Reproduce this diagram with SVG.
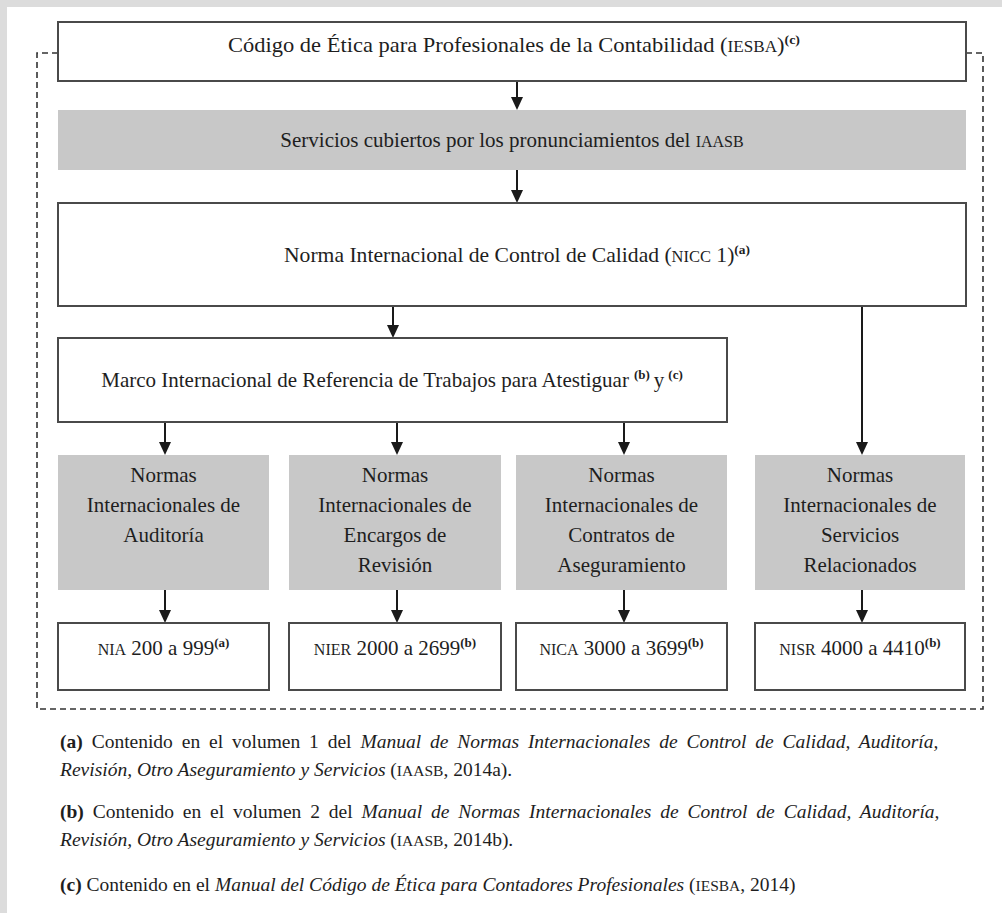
<svg xmlns="http://www.w3.org/2000/svg" width="1002" height="913" viewBox="0 0 1002 913">
<style>
.bg{fill:#ffffff}
.frame{fill:#dcdcdc}
.box{fill:#ffffff;stroke:#4a4a4a;stroke-width:2}
.gbox{fill:#c8c8c8;stroke:none}
.t{font-family:"Liberation Serif","Times New Roman",serif;font-size:21px;fill:#1e1e1e}
.m{text-anchor:middle}
.sc{font-size:16px}
.sup{font-size:13px;font-weight:bold}
.fn{font-family:"Liberation Serif","Times New Roman",serif;font-size:19.5px;fill:#1e1e1e}
.ws{word-spacing:4px}
.it{font-style:italic}
.b{font-weight:bold}
.conn{stroke:#1a1a1a;stroke-width:2;fill:none}
.head{fill:#1a1a1a}
.dash{stroke:#333;stroke-width:1.6;fill:none;stroke-dasharray:6 4}
</style>
<rect class="bg" x="0" y="0" width="1002" height="913"/>
<rect class="frame" x="0" y="0" width="1002" height="7"/>
<rect class="frame" x="0" y="0" width="7" height="913"/>

<g id="border">
<path class="dash" d="M58,53 H37 V709 H983 V53 H966"/>
</g>

<g id="connectors">
<line class="conn" x1="517" y1="81" x2="517" y2="98"/>
<path class="head" d="M511,97 L523,97 L517,110 Z"/>
<line class="conn" x1="517" y1="170" x2="517" y2="191"/>
<path class="head" d="M511,190 L523,190 L517,203 Z"/>
<line class="conn" x1="393" y1="306" x2="393" y2="326"/>
<path class="head" d="M387,325 L399,325 L393,338 Z"/>
<line class="conn" x1="862" y1="306" x2="862" y2="443"/>
<path class="head" d="M856,442 L868,442 L862,455 Z"/>
<line class="conn" x1="165" y1="422" x2="165" y2="443"/>
<path class="head" d="M159,442 L171,442 L165,455 Z"/>
<line class="conn" x1="397" y1="422" x2="397" y2="443"/>
<path class="head" d="M391,442 L403,442 L397,455 Z"/>
<line class="conn" x1="624" y1="422" x2="624" y2="443"/>
<path class="head" d="M618,442 L630,442 L624,455 Z"/>
<line class="conn" x1="165" y1="590" x2="165" y2="611"/>
<path class="head" d="M159,610 L171,610 L165,623 Z"/>
<line class="conn" x1="397" y1="590" x2="397" y2="611"/>
<path class="head" d="M391,610 L403,610 L397,623 Z"/>
<line class="conn" x1="624" y1="590" x2="624" y2="611"/>
<path class="head" d="M618,610 L630,610 L624,623 Z"/>
<line class="conn" x1="862" y1="590" x2="862" y2="611"/>
<path class="head" d="M856,610 L868,610 L862,623 Z"/>
</g>

<g id="codigo">
<rect class="box" x="58" y="22" width="908" height="59"/>
<text class="t m" x="514" y="52" textLength="572" lengthAdjust="spacingAndGlyphs">Código de Ética para Profesionales de la Contabilidad (<tspan class="sc">IESBA</tspan>)<tspan class="sup" dy="-8">(c)</tspan></text>
</g>

<g id="servicios">
<rect class="gbox" x="58" y="110" width="908" height="60"/>
<text class="t m" x="512" y="147">Servicios cubiertos por los pronunciamientos del <tspan class="sc">IAASB</tspan></text>
</g>

<g id="nicc">
<rect class="box" x="58" y="203" width="908" height="103"/>
<text class="t m" x="517" y="262" textLength="466" lengthAdjust="spacingAndGlyphs">Norma Internacional de Control de Calidad (<tspan class="sc">NICC</tspan> 1)<tspan class="sup" dy="-8">(a)</tspan></text>
</g>

<g id="marco">
<rect class="box" x="58" y="338" width="669" height="84"/>
<text class="t m" x="392" y="387" font-size="20.3">Marco Internacional de Referencia de Trabajos para Atestiguar<tspan class="sup" dx="5" dy="-8">(b)</tspan><tspan dx="4" dy="8">y</tspan><tspan class="sup" dx="4" dy="-8">(c)</tspan></text>
</g>

<g id="nia-group">
<rect class="gbox" x="58" y="455" width="211" height="135"/>
<text class="t m" x="163.5" y="482">Normas</text>
<text class="t m" x="163.5" y="512">Internacionales de</text>
<text class="t m" x="163.5" y="542">Auditoría</text>
</g>

<g id="nier-group">
<rect class="gbox" x="289" y="455" width="212" height="135"/>
<text class="t m" x="395" y="482">Normas</text>
<text class="t m" x="395" y="512">Internacionales de</text>
<text class="t m" x="395" y="542">Encargos de</text>
<text class="t m" x="395" y="572">Revisión</text>
</g>

<g id="nica-group">
<rect class="gbox" x="516" y="455" width="211" height="135"/>
<text class="t m" x="621.5" y="482">Normas</text>
<text class="t m" x="621.5" y="512">Internacionales de</text>
<text class="t m" x="621.5" y="542">Contratos de</text>
<text class="t m" x="621.5" y="572">Aseguramiento</text>
</g>

<g id="nisr-group">
<rect class="gbox" x="755" y="455" width="210" height="135"/>
<text class="t m" x="860" y="482">Normas</text>
<text class="t m" x="860" y="512">Internacionales de</text>
<text class="t m" x="860" y="542">Servicios</text>
<text class="t m" x="860" y="572">Relacionados</text>
</g>

<g id="nia">
<rect class="box" x="58" y="623" width="211" height="67"/>
<text class="t m" x="163.5" y="655"><tspan class="sc">NIA</tspan> 200 a 999<tspan class="sup" dy="-8">(a)</tspan></text>
</g>
<g id="nier">
<rect class="box" x="289" y="623" width="212" height="67"/>
<text class="t m" x="395" y="655"><tspan class="sc">NIER</tspan> 2000 a 2699<tspan class="sup" dy="-8">(b)</tspan></text>
</g>
<g id="nica">
<rect class="box" x="516" y="623" width="211" height="67"/>
<text class="t m" x="621.5" y="655"><tspan class="sc">NICA</tspan> 3000 a 3699<tspan class="sup" dy="-8">(b)</tspan></text>
</g>
<g id="nisr">
<rect class="box" x="755" y="623" width="210" height="67"/>
<text class="t m" x="860" y="655"><tspan class="sc">NISR</tspan> 4000 a 4410<tspan class="sup" dy="-8">(b)</tspan></text>
</g>

<g id="notes">
<text class="fn ws" x="60" y="748"><tspan class="b">(a)</tspan> Contenido en el volumen 1 del <tspan class="it">Manual de Normas Internacionales de Control de Calidad, Auditoría,</tspan></text>
<text class="fn" x="60" y="776"><tspan class="it">Revisión, Otro Aseguramiento y Servicios</tspan> (<tspan font-size="15.5">IAASB</tspan>, 2014a).</text>
<text class="fn ws" x="60" y="818"><tspan class="b">(b)</tspan> Contenido en el volumen 2 del <tspan class="it">Manual de Normas Internacionales de Control de Calidad, Auditoría,</tspan></text>
<text class="fn" x="60" y="846"><tspan class="it">Revisión, Otro Aseguramiento y Servicios</tspan> (<tspan font-size="15.5">IAASB</tspan>, 2014b).</text>
<text class="fn" x="60" y="891"><tspan class="b">(c)</tspan> Contenido en el <tspan class="it">Manual del Código de Ética para Contadores Profesionales</tspan> (<tspan font-size="15.5">IESBA</tspan>, 2014)</text>
</g>
</svg>
